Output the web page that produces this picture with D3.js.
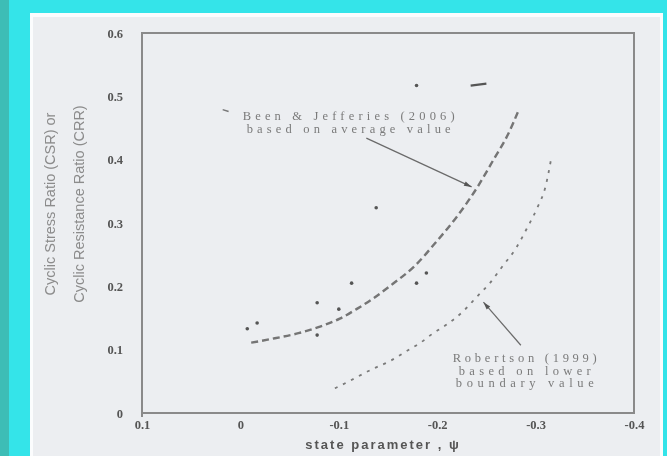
<!DOCTYPE html>
<html>
<head>
<meta charset="utf-8">
<script src="https://cdn.jsdelivr.net/npm/d3@7"></script>
<style>
  body { margin: 0; background: #34e4e9; }
  svg { display: block; }
</style>
</head>
<body>
<div id="chart"></div>
<script>
// Been & Jefferies (2006), average value (dashed)
const beenPsi = [-0.011, -0.035, -0.059, -0.08, -0.101, -0.118, -0.135, -0.155, -0.177, -0.2, -0.22, -0.241, -0.258, -0.272, -0.283];
const beenCsr = [0.111, 0.118, 0.126, 0.136, 0.149, 0.164, 0.181, 0.204, 0.232, 0.272, 0.31, 0.357, 0.402, 0.44, 0.479];

// Robertson (1999), lower boundary (dotted)
const robPsi = [-0.096, -0.109, -0.135, -0.152, -0.167, -0.183, -0.196, -0.21, -0.226, -0.24, -0.254, -0.266, -0.28, -0.292, -0.302, -0.31, -0.316];
const robCsr = [0.039, 0.049, 0.07, 0.082, 0.096, 0.111, 0.126, 0.14, 0.16, 0.183, 0.206, 0.231, 0.26, 0.294, 0.325, 0.357, 0.403];

// scattered field points
const ptPsi = [-0.007, -0.017, -0.078, -0.1, -0.078, -0.113, -0.179, -0.189, -0.138, -0.179];
const ptCsr = [0.133, 0.142, 0.174, 0.164, 0.123, 0.205, 0.205, 0.221, 0.324, 0.517];

const xTicks = [0.1, 0, -0.1, -0.2, -0.3, -0.4];
const yTicks = [0, 0.1, 0.2, 0.3, 0.4, 0.5, 0.6];

const W = 667, H = 456;
const svg = d3.select("#chart").append("svg")
  .attr("width", W)
  .attr("height", H);

svg.append("defs").append("filter")
  .attr("id", "soft")
  .append("feGaussianBlur")
  .attr("stdDeviation", 0.7);

// page frame
svg.append("rect").attr("x", 0).attr("y", 0).attr("width", 9).attr("height", H).attr("fill", "#3dbdb6");
svg.append("rect").attr("x", 30).attr("y", 13).attr("width", 633).attr("height", H).attr("fill", "#fbfcfd");
svg.append("rect").attr("x", 33).attr("y", 17).attr("width", 627).attr("height", H).attr("fill", "#eceef1");

const g = svg.append("g").attr("filter", "url(#soft)");

const x = d3.scaleLinear().domain([0.1, -0.4]).range([142, 634]);
const y = d3.scaleLinear().domain([0, 0.6]).range([413, 33]);

const fmt = d => d === 0 ? "0" : d3.format(".1f")(d).replace("−", "-");

// plot box
g.append("rect")
  .attr("x", x(0.1)).attr("y", y(0.6))
  .attr("width", x(-0.4) - x(0.1)).attr("height", y(0) - y(0.6))
  .attr("fill", "none")
  .attr("stroke", "#8a8a8a")
  .attr("stroke-width", 2);

g.append("line")
  .attr("x1", x(0.1)).attr("x2", x(0.1))
  .attr("y1", y(0)).attr("y2", y(0) + 4)
  .attr("stroke", "#8a8a8a").attr("stroke-width", 2);

// axes (labels only, box drawn above)
const yAxis = g.append("g")
  .attr("transform", `translate(${x(0.1) - 16},0)`)
  .call(d3.axisLeft(y).tickValues(yTicks).tickSize(0).tickFormat(fmt));
yAxis.select(".domain").remove();
yAxis.selectAll("text")
  .attr("font-family", "Liberation Serif, serif")
  .attr("font-weight", "bold")
  .attr("font-size", 12.5)
  .attr("fill", "#555");

const xAxis = g.append("g")
  .attr("transform", `translate(0,${y(0) + 4})`)
  .call(d3.axisBottom(x).tickValues(xTicks).tickSize(0).tickFormat(fmt));
xAxis.select(".domain").remove();
xAxis.selectAll("text")
  .attr("font-family", "Liberation Serif, serif")
  .attr("font-weight", "bold")
  .attr("font-size", 12.5)
  .attr("fill", "#555");

// axis titles
g.append("text")
  .attr("x", 383).attr("y", 449)
  .attr("text-anchor", "middle")
  .attr("font-family", "Liberation Sans, sans-serif")
  .attr("font-weight", "bold")
  .attr("font-size", 13)
  .attr("letter-spacing", 2)
  .attr("fill", "#555")
  .text("state parameter , ψ");

const yTitle = g.append("text")
  .attr("transform", "translate(0,204) rotate(-90)")
  .attr("text-anchor", "middle")
  .attr("font-family", "Liberation Sans, sans-serif")
  .attr("font-size", 14.5)
  .attr("fill", "#8c8c8c");
yTitle.append("tspan").attr("x", 0).attr("y", 55).text("Cyclic Stress Ratio (CSR) or");
yTitle.append("tspan").attr("x", 0).attr("y", 84).text("Cyclic Resistance Ratio (CRR)");

// curves
const line = d3.line().curve(d3.curveMonotoneX).x(d => x(d[0])).y(d => y(d[1]));

g.append("path")
  .datum(d3.zip(beenPsi, beenCsr))
  .attr("d", line)
  .attr("fill", "none")
  .attr("stroke", "#747474")
  .attr("stroke-width", 2.4)
  .attr("stroke-dasharray", "7,4");

g.append("path")
  .datum(d3.zip(robPsi, robCsr))
  .attr("d", line)
  .attr("fill", "none")
  .attr("stroke", "#7a7a7a")
  .attr("stroke-width", 1.8)
  .attr("stroke-dasharray", "3,6");

g.selectAll(".pt")
  .data(d3.zip(ptPsi, ptCsr))
  .join("circle")
  .attr("class", "pt")
  .attr("cx", d => x(d[0]))
  .attr("cy", d => y(d[1]))
  .attr("r", 1.8)
  .attr("fill", "#555");

// short dashes near the top
g.append("line")
  .attr("x1", x(-0.234)).attr("x2", x(-0.25))
  .attr("y1", y(0.517)).attr("y2", y(0.52))
  .attr("stroke", "#555").attr("stroke-width", 2.2);
g.append("line")
  .attr("x1", x(0.018)).attr("x2", x(0.012))
  .attr("y1", y(0.479)).attr("y2", y(0.476))
  .attr("stroke", "#777").attr("stroke-width", 1.4);

// annotations (each line stretched to the width seen in the scan)
const annot = (px, py, lines, widths) => {
  const t = g.append("text")
    .attr("text-anchor", "middle")
    .attr("font-family", "Liberation Serif, serif")
    .attr("font-size", 12.5)
    .attr("fill", "#7a7a7a");
  lines.forEach((s, i) => t.append("tspan")
    .attr("x", x(px)).attr("y", y(py) + i * 12.5)
    .attr("textLength", widths[i])
    .attr("lengthAdjust", "spacing")
    .text(s));
};
annot(-0.11, 0.462, ["Been & Jefferies (2006)", "based on average value"], [212, 204]);
annot(-0.289, 0.08, ["Robertson (1999)", "based on lower", "boundary value"], [144, 132, 138]);

const arrow = (a, b) => {
  g.append("line")
    .attr("x1", x(a[0])).attr("y1", y(a[1]))
    .attr("x2", x(b[0])).attr("y2", y(b[1]))
    .attr("stroke", "#6a6a6a").attr("stroke-width", 1.2);
  const ang = Math.atan2(y(b[1]) - y(a[1]), x(b[0]) - x(a[0]));
  const hx = x(b[0]), hy = y(b[1]);
  g.append("path")
    .attr("d", `M${hx},${hy} L${hx - 8 * Math.cos(ang - 0.3)},${hy - 8 * Math.sin(ang - 0.3)} L${hx - 8 * Math.cos(ang + 0.3)},${hy - 8 * Math.sin(ang + 0.3)} Z`)
    .attr("fill", "#555");
};
arrow([-0.128, 0.434], [-0.235, 0.357]);
arrow([-0.285, 0.107], [-0.247, 0.175]);
</script>
</body>
</html>
